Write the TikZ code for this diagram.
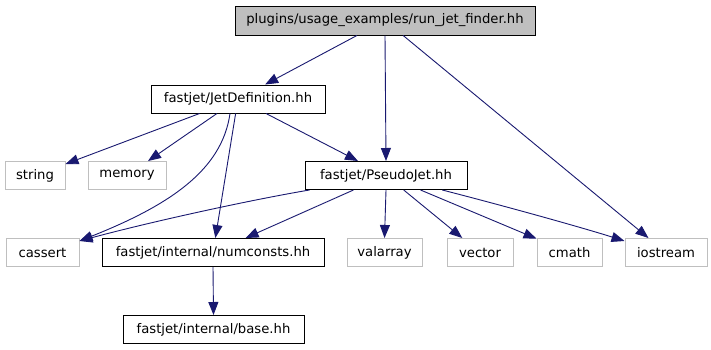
\documentclass[tikz,border=0pt]{standalone}
\usepackage{fontspec}
\setmainfont{DejaVu Sans}
\usetikzlibrary{arrows.meta}
\definecolor{edgeblue}{HTML}{191970}
\definecolor{sysgray}{HTML}{BFBFBF}
\begin{document}
\begin{tikzpicture}[x=1pt,y=-1pt,
  box/.style={draw=black, line width=1pt, rectangle, minimum height=28pt, inner sep=0pt, font=\fontsize{13.2}{15}\selectfont},
  sys/.style={box, draw=sysgray},
  edge/.style={draw=edgeblue, line width=0.9pt, -{Triangle[length=13pt,width=10pt]}}
]
\useasboundingbox[fill=white] (0,0) rectangle (711,349);
\node[box, fill=sysgray, minimum width=300pt, minimum height=29pt] (top) at (385,20.5) {plugins/usage\_examples/run\_jet\_finder.hh};
\node[box, minimum width=174pt] (jetdef) at (238,99) {fastjet/JetDefinition.hh};
\node[sys, minimum width=60pt] (string) at (35,175.5) {string};
\node[sys, minimum width=78pt] (memory) at (127,175.5) {memory};
\node[box, minimum width=162pt] (pseudojet) at (386,175.5) {fastjet/PseudoJet.hh};
\node[sys, minimum width=73pt] (cassert) at (42.5,252.5) {cassert};
\node[box, minimum width=222pt] (numconsts) at (213,252.5) {fastjet/internal/numconsts.hh};
\node[sys, minimum width=75pt] (valarray) at (384.5,252.5) {valarray};
\node[sys, minimum width=66pt] (vector) at (480,252.5) {vector};
\node[sys, minimum width=65pt] (cmath) at (569.5,252.5) {cmath};
\node[sys, minimum width=82pt] (iostream) at (666,252.5) {iostream};
\node[box, minimum width=181pt] (base) at (213.5,329.5) {fastjet/internal/base.hh};

\draw[edge] (top) -- (jetdef);
\draw[edge] (top.south) -- (pseudojet.north);
\draw[edge] (top) -- (iostream);
\draw[edge] (jetdef) -- (string);
\draw[edge] (jetdef) -- (memory);
\draw[edge] ([xshift=-8pt]jetdef.south) .. controls (222,170) and (170,205) .. ([yshift=-3pt]cassert.north east);
\draw[edge] (jetdef) -- (numconsts);
\draw[edge] (jetdef) -- (pseudojet);
\draw[edge] ([xshift=5pt]pseudojet.south west) .. controls (250,200) and (150,222) .. ([yshift=-3pt]cassert.north east);
\draw[edge] (pseudojet) -- (numconsts);
\draw[edge] (pseudojet.south) -- (valarray.north);
\draw[edge] (pseudojet) -- (vector);
\draw[edge] (pseudojet) -- (cmath);
\draw[edge] (pseudojet) .. controls (520,210) and (590,230) .. ([yshift=-3pt]iostream.north west);
\draw[edge] (numconsts.south) -- (base.north);
\end{tikzpicture}
\end{document}
